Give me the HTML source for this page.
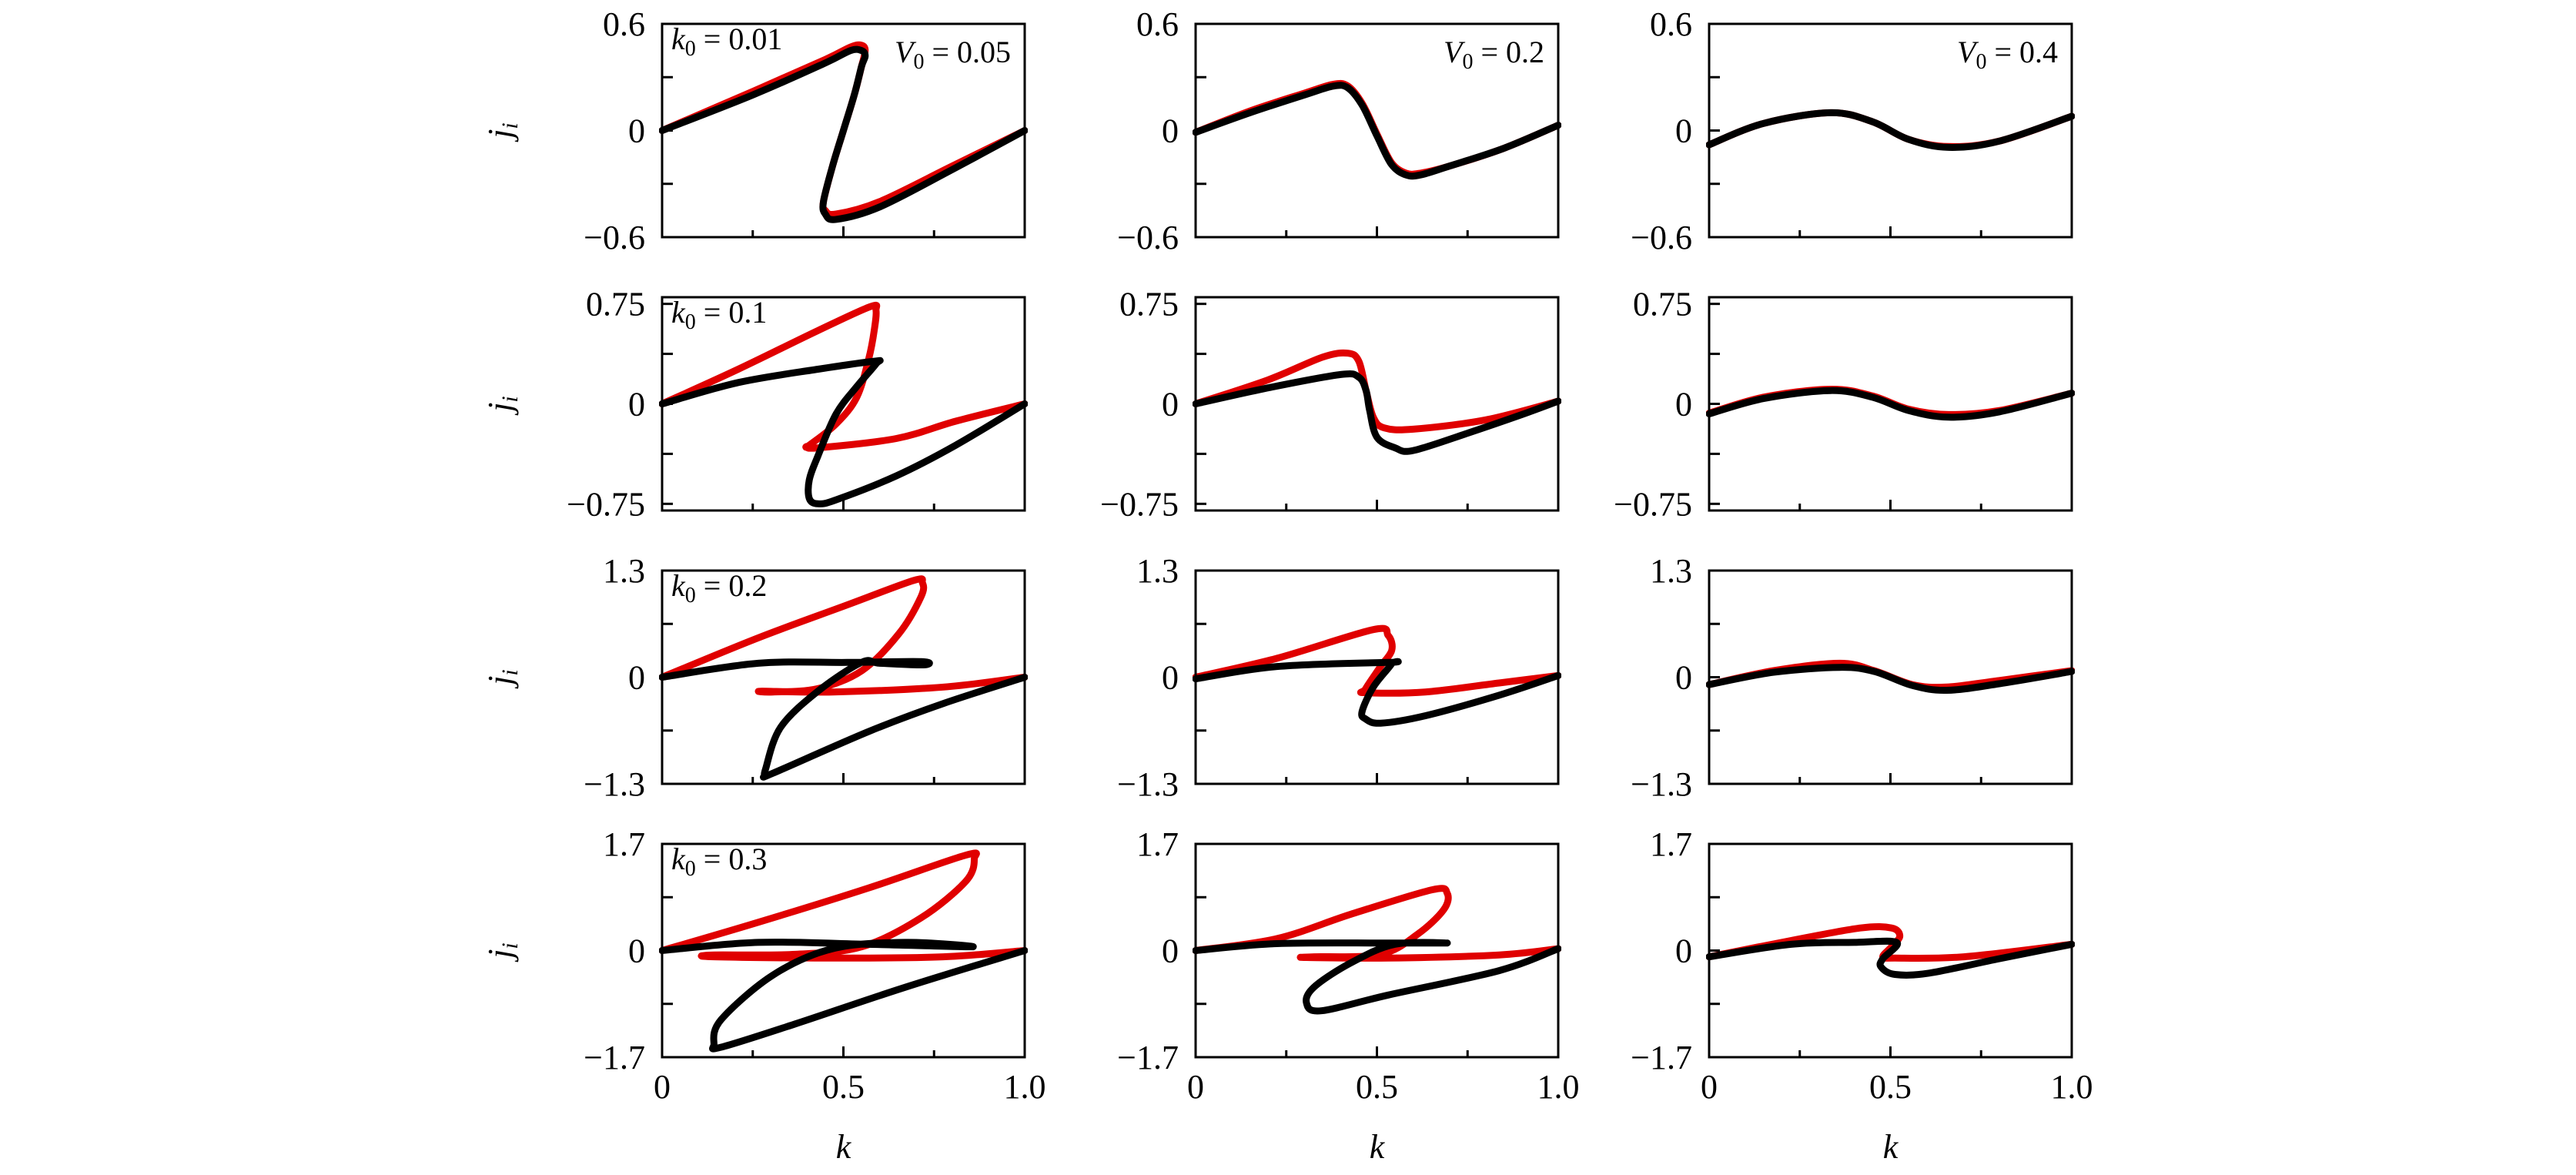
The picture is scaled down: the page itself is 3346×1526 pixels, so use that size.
<!DOCTYPE html>
<html><head><meta charset="utf-8"><style>
html,body{margin:0;padding:0;background:#fff;}
svg{display:block;}
text{font-family:"Liberation Serif",serif;fill:#000;}
</style></head><body>
<svg id="fig" width="3346" height="1526" viewBox="0 0 3346 1526" xmlns="http://www.w3.org/2000/svg"></svg>
<script>
// ---- layout ----
const colLeft=[860,1553,2220], panelW=471;
const rowTop=[31,386,741,1096], panelH=277;
// ---- data ----
const yMaxLabel=[0.6,0.75,1.3,1.7];
const yRange=[0.6,0.8,1.3,1.7];
const yMidTick=[0.3,0.375,0.65,0.85];
const yTickText=[["0.6","0","\u22120.6"],["0.75","0","\u22120.75"],["1.3","0","\u22121.3"],["1.7","0","\u22121.7"]];
const xTicks=[0,0.25,0.5,0.75,1];
const xTickLabels=["0","0.5","1.0"];
const xTickLabelVals=[0,0.5,1];
const k0Labels=["0.01","0.1","0.2","0.3"];
const v0Labels=["0.05","0.2","0.4"];

// row1
const r1c1_red_k=[0,0.25,0.45,0.52,0.55,0.56,0.55,0.53,0.5,0.47,0.445,0.45,0.48,0.6,0.8,1];
const r1c1_red_j=[0,0.22,0.4,0.47,0.48,0.45,0.36,0.2,0,-0.2,-0.4,-0.45,-0.47,-0.4,-0.2,0];
const r1c1_blk_k=[0,0.25,0.45,0.52,0.55,0.56,0.55,0.53,0.5,0.47,0.445,0.45,0.48,0.6,0.8,1];
const r1c1_blk_j=[0,0.2,0.38,0.45,0.45,0.42,0.36,0.2,0,-0.2,-0.4,-0.47,-0.5,-0.43,-0.22,0];
const r1c2_red_k=[0,0.15,0.3,0.38,0.42,0.46,0.5,0.54,0.58,0.62,0.7,0.85,1];
const r1c2_red_j=[-0.01,0.11,0.21,0.26,0.25,0.15,-0.02,-0.18,-0.24,-0.24,-0.2,-0.1,0.03];
const r1c2_blk_k=[0,0.15,0.3,0.38,0.42,0.46,0.5,0.54,0.58,0.62,0.7,0.85,1];
const r1c2_blk_j=[-0.01,0.1,0.2,0.25,0.24,0.14,-0.03,-0.19,-0.25,-0.25,-0.2,-0.1,0.03];
const r1c3_red_k=[0,0.15,0.335,0.45,0.55,0.66,0.8,1];
const r1c3_red_j=[-0.08,0.04,0.1,0.05,-0.05,-0.09,-0.06,0.08];
const r1c3_blk_k=[0,0.15,0.335,0.45,0.55,0.66,0.8,1];
const r1c3_blk_j=[-0.08,0.04,0.1,0.05,-0.05,-0.095,-0.06,0.08];
// row2
const r2c1_red_k=[0,0.21,0.43,0.575,0.59,0.585,0.57,0.537,0.48,0.406,0.4,0.43,0.646,0.81,1];
const r2c1_red_j=[0,0.26,0.55,0.73,0.7,0.55,0.34,0.05,-0.15,-0.31,-0.32,-0.33,-0.26,-0.13,0];
const r2c1_blk_k=[0,0.21,0.43,0.586,0.59,0.537,0.48,0.43,0.406,0.406,0.43,0.48,0.646,0.81,1];
const r2c1_blk_j=[0,0.16,0.26,0.32,0.3,0.13,-0.075,-0.39,-0.57,-0.71,-0.75,-0.72,-0.54,-0.31,0];
const r2c2_red_k=[0,0.2,0.35,0.42,0.45,0.47,0.49,0.52,0.6,0.8,1];
const r2c2_red_j=[0,0.18,0.35,0.38,0.32,0.1,-0.1,-0.18,-0.19,-0.12,0.02];
const r2c2_blk_k=[0,0.2,0.4,0.45,0.47,0.48,0.5,0.55,0.6,0.75,0.9,1];
const r2c2_blk_j=[0,0.12,0.22,0.2,0.1,-0.05,-0.25,-0.33,-0.35,-0.22,-0.08,0.02];
const r2c3_red_k=[0,0.15,0.335,0.45,0.55,0.66,0.8,1];
const r2c3_red_j=[-0.07,0.05,0.11,0.06,-0.04,-0.08,-0.05,0.08];
const r2c3_blk_k=[0,0.15,0.335,0.45,0.55,0.66,0.8,1];
const r2c3_blk_j=[-0.075,0.04,0.1,0.05,-0.05,-0.1,-0.06,0.08];
// row3
const r3c1_red_k=[0,0.265,0.51,0.694,0.718,0.714,0.653,0.551,0.429,0.306,0.276,0.47,0.776,1];
const r3c1_red_j=[0,0.48,0.88,1.18,1.15,0.98,0.53,0.08,-0.14,-0.18,-0.17,-0.18,-0.12,0];
const r3c1_blk_k=[0,0.265,0.51,0.714,0.72,0.6,0.55,0.43,0.327,0.286,0.286,0.306,0.571,0.776,1];
const r3c1_blk_j=[0,0.17,0.18,0.19,0.15,0.17,0.18,-0.17,-0.61,-1.11,-1.19,-1.17,-0.66,-0.32,0];
const r3c2_red_k=[0,0.224,0.49,0.531,0.541,0.51,0.469,0.469,0.633,0.837,1];
const r3c2_red_j=[0,0.23,0.58,0.51,0.33,0.13,-0.14,-0.19,-0.18,-0.07,0.02];
const r3c2_blk_k=[0,0.224,0.531,0.54,0.49,0.459,0.469,0.51,0.633,0.837,1];
const r3c2_blk_j=[-0.02,0.13,0.18,0.16,-0.12,-0.42,-0.51,-0.56,-0.47,-0.22,0.02];
const r3c3_red_k=[0,0.178,0.36,0.455,0.56,0.655,0.8,1];
const r3c3_red_j=[-0.09,0.08,0.17,0.08,-0.09,-0.12,-0.04,0.08];
const r3c3_blk_k=[0,0.178,0.36,0.455,0.56,0.655,0.8,1];
const r3c3_blk_j=[-0.09,0.06,0.12,0.07,-0.1,-0.16,-0.08,0.07];
// row4
const r4c1_red_k=[0,0.265,0.571,0.837,0.861,0.837,0.714,0.551,0.367,0.143,0.143,0.47,0.776,1];
const r4c1_red_j=[0,0.45,1.0,1.52,1.46,1.1,0.52,0.06,-0.06,-0.07,-0.1,-0.12,-0.1,0];
const r4c1_blk_k=[0,0.265,0.571,0.857,0.67,0.47,0.306,0.163,0.143,0.163,0.367,0.673,1];
const r4c1_blk_j=[0,0.13,0.1,0.06,0.13,0.03,-0.39,-1.1,-1.49,-1.54,-1.17,-0.58,0];
const r4c2_red_k=[0,0.224,0.429,0.653,0.694,0.684,0.612,0.51,0.327,0.306,0.531,0.837,1];
const r4c2_red_j=[0,0.19,0.58,0.97,0.91,0.65,0.26,-0.06,-0.1,-0.11,-0.12,-0.07,0.03];
const r4c2_blk_k=[0,0.224,0.531,0.694,0.55,0.43,0.327,0.306,0.347,0.531,0.837,1];
const r4c2_blk_j=[0,0.11,0.12,0.12,0.1,-0.19,-0.58,-0.84,-0.96,-0.71,-0.32,0.03];
const r4c3_red_k=[0,0.226,0.417,0.503,0.526,0.503,0.479,0.512,0.703,1];
const r4c3_red_j=[-0.1,0.16,0.36,0.36,0.23,0.06,-0.1,-0.12,-0.1,0.1];
const r4c3_blk_k=[0,0.226,0.4,0.517,0.479,0.474,0.512,0.607,0.8,1];
const r4c3_blk_j=[-0.1,0.1,0.13,0.13,-0.13,-0.26,-0.38,-0.36,-0.13,0.1];

const series={
 r1c1:[[r1c1_red_k,r1c1_red_j],[r1c1_blk_k,r1c1_blk_j]],
 r1c2:[[r1c2_red_k,r1c2_red_j],[r1c2_blk_k,r1c2_blk_j]],
 r1c3:[[r1c3_red_k,r1c3_red_j],[r1c3_blk_k,r1c3_blk_j]],
 r2c1:[[r2c1_red_k,r2c1_red_j],[r2c1_blk_k,r2c1_blk_j]],
 r2c2:[[r2c2_red_k,r2c2_red_j],[r2c2_blk_k,r2c2_blk_j]],
 r2c3:[[r2c3_red_k,r2c3_red_j],[r2c3_blk_k,r2c3_blk_j]],
 r3c1:[[r3c1_red_k,r3c1_red_j],[r3c1_blk_k,r3c1_blk_j]],
 r3c2:[[r3c2_red_k,r3c2_red_j],[r3c2_blk_k,r3c2_blk_j]],
 r3c3:[[r3c3_red_k,r3c3_red_j],[r3c3_blk_k,r3c3_blk_j]],
 r4c1:[[r4c1_red_k,r4c1_red_j],[r4c1_blk_k,r4c1_blk_j]],
 r4c2:[[r4c2_red_k,r4c2_red_j],[r4c2_blk_k,r4c2_blk_j]],
 r4c3:[[r4c3_red_k,r4c3_red_j],[r4c3_blk_k,r4c3_blk_j]]
};

const NS="http://www.w3.org/2000/svg";
const svg=document.getElementById('fig');
function mk(tag,attrs,parent){const e=document.createElementNS(NS,tag);for(const a in attrs)e.setAttribute(a,attrs[a]);(parent||svg).appendChild(e);return e;}
function smoothPath(P){
 let d='M'+P[0][0].toFixed(1)+','+P[0][1].toFixed(1);
 const t=0.5/3;
 for(let i=0;i<P.length-1;i++){
  const p0=P[Math.max(0,i-1)],p1=P[i],p2=P[i+1],p3=P[Math.min(P.length-1,i+2)];
  const c1=[p1[0]+(p2[0]-p0[0])*t,p1[1]+(p2[1]-p0[1])*t];
  const c2=[p2[0]-(p3[0]-p1[0])*t,p2[1]-(p3[1]-p1[1])*t];
  d+=' C'+c1[0].toFixed(1)+','+c1[1].toFixed(1)+' '+c2[0].toFixed(1)+','+c2[1].toFixed(1)+' '+p2[0].toFixed(1)+','+p2[1].toFixed(1);
 }
 return d;
}

for(let r=0;r<4;r++){
 for(let c=0;c<3;c++){
  const L=colLeft[c],T=rowTop[r],R=L+panelW,B=T+panelH;
  const ym=yRange[r];
  const xs=k=>L+k*panelW;
  const ys=j=>T+panelH/2-j/ym*(panelH/2);
  const g=mk('g',{});
  
  
  const cp=mk('clipPath',{id:'cp'+r+c},g);
  mk('rect',{x:L-4,y:T,width:panelW+8,height:panelH},cp);
  const s=series['r'+(r+1)+'c'+(c+1)];
  const colors=['#e00000','#000000'];
  const names=['red-series','black-series'];
  for(let si=0;si<2;si++){
   const ks=s[si][0],js=s[si][1];
   const P=ks.map((k,i)=>[xs(k),ys(js[i])]);
   const pl=mk('path',{d:smoothPath(P),fill:'none',stroke:colors[si],'stroke-width':9,'stroke-linejoin':'round','stroke-linecap':'round','clip-path':'url(#cp'+r+c+')'},g);
   
   
  }
  const fr=mk('rect',{x:L,y:T,width:panelW,height:panelH,fill:'none',stroke:'#000','stroke-width':3},g);
  
  
  const yt=[yMaxLabel[r],yMidTick[r],0,-yMidTick[r],-yMaxLabel[r]];
  yt.forEach(v=>{mk('line',{x1:L,x2:L+14,y1:ys(v),y2:ys(v),stroke:'#000','stroke-width':3},g);});
  [yMaxLabel[r],0,-yMaxLabel[r]].forEach((v,i)=>{
   const t=mk('text',{x:L-22,y:ys(v)+15,'text-anchor':'end','font-size':44},g);
   t.textContent=yTickText[r][i];
   
   
  });
  xTicks.slice(1,4).forEach(v=>{const len=(v===0.5)?14:9;mk('line',{x1:xs(v),x2:xs(v),y1:B,y2:B-len,stroke:'#000','stroke-width':3},g);});
  if(r===3){
   xTickLabelVals.forEach((v,i)=>{
    const t=mk('text',{x:xs(v),y:1426,'text-anchor':'middle','font-size':44},g);
    t.textContent=xTickLabels[i];
    
    
   });
   const kt=mk('text',{x:L+panelW/2,y:1504,'text-anchor':'middle','font-size':44,'font-style':'italic'},g);
   kt.textContent='k';
   
   
  }
  if(c===0){
   const ty=T+panelH/2;
   const jt=mk('text',{x:0,y:0,'text-anchor':'middle','font-size':44,'font-style':'italic',transform:'translate(664,'+ty+') rotate(-90)'},g);
   jt.innerHTML='j<tspan font-size="30" dy="8">i</tspan>';
   
   
   const kl=mk('text',{x:L+12,y:T+33,'font-size':40},g);
   kl.innerHTML='<tspan font-style="italic">k</tspan><tspan font-size="28" dy="8">0</tspan><tspan dy="-8"> = '+k0Labels[r]+'</tspan>';
   
   
  }
  if(r===0){
   const vl=mk('text',{x:R-18,y:T+50,'font-size':40,'text-anchor':'end'},g);
   vl.innerHTML='<tspan font-style="italic">V</tspan><tspan font-size="28" dy="8">0</tspan><tspan dy="-8"> = '+v0Labels[c]+'</tspan>';
   
   
  }
 }
}
</script>
</body></html>
